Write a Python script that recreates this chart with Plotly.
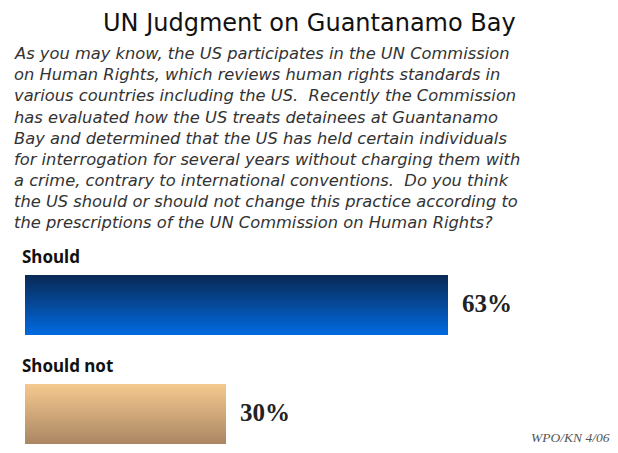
import plotly.graph_objects as go

# ---- data ----
categories = ["Should not", "Should"]
values = [30, 63]
value_labels = ["30%", "63%"]
title_text = "UN Judgment on Guantanamo Bay"
question_lines = [
    "As you may know, the US participates in the UN Commission",
    "on Human Rights, which reviews human rights standards in",
    "various countries including the US.  Recently the Commission",
    "has evaluated how the US treats detainees at Guantanamo",
    "Bay and determined that the US has held certain individuals",
    "for interrogation for several years without charging them with",
    "a crime, contrary to international conventions.  Do you think",
    "the US should or should not change this practice according to",
    "the prescriptions of the UN Commission on Human Rights?",
]
source_text = "WPO/KN 4/06"

# gradient end colours (bottom, top) for each category -- styling only
gradient_ends = {
    "Should": ("#0069de", "#0a2a58"),
    "Should not": ("#ab8764", "#f4c88e"),
}
N_STRIPS = 40

W, H = 618, 453
bar_w = 0.55
px_per_unit = 109.0
plot_top_px = 265.0
y_lo = -(H - 414.0) / px_per_unit
y_hi = 1 + (305.0 - plot_top_px) / px_per_unit
x0_px = 25.0
px_per_pct = 6.71
x_hi = (W - x0_px) / px_per_pct


def py(px):
    return 1 - px / H


def mix(c1, c2, t):
    a = [int(c1[i:i + 2], 16) for i in (1, 3, 5)]
    b = [int(c2[i:i + 2], 16) for i in (1, 3, 5)]
    return "rgb(%d,%d,%d)" % tuple(round(a[k] + (b[k] - a[k]) * t) for k in range(3))


fig = go.Figure()
for cat, val in zip(categories, values):
    c_bot, c_top = gradient_ends[cat]
    sw = bar_w / N_STRIPS
    for i in range(N_STRIPS):
        col = mix(c_bot, c_top, i / (N_STRIPS - 1))
        fig.add_trace(go.Bar(
            x=[val], y=[categories.index(cat)], orientation="h",
            width=[sw * 1.6 if i < N_STRIPS - 1 else sw], offset=[-bar_w / 2 + i * sw],
            marker=dict(color=col, line=dict(width=0)),
            showlegend=False, hoverinfo="skip",
        ))

annotations = []
# title
annotations.append(dict(text=title_text, x=0.5, y=py(23), xref="paper", yref="paper",
                        xanchor="center", yanchor="middle", showarrow=False,
                        font=dict(family="DejaVu Sans", size=24, color="#111111")))
# question
for i, line in enumerate(question_lines):
    annotations.append(dict(text="<i>" + line + "</i>", x=12 / W, y=py(54 + 21 * i),
                            xref="paper", yref="paper", xanchor="left", yanchor="middle",
                            showarrow=False,
                            font=dict(family="DejaVu Sans", size=16.3, color="#333333")))
# category labels and value labels
for idx, (cat, val, lab) in enumerate(zip(categories, values, value_labels)):
    annotations.append(dict(text="<b>" + cat + "</b>", x=0, y=idx, xref="x", yref="y",
                            xanchor="left", yanchor="middle", xshift=-5, yshift=49, showarrow=False,
                            font=dict(family="Noto Sans", size=17, color="#111111")))
    annotations.append(dict(text="<b>" + lab + "</b>", x=val, y=idx, xref="x", yref="y",
                            xanchor="left", yanchor="middle", xshift=12, yshift=2, showarrow=False,
                            font=dict(family="Liberation Serif", size=25, color="#222222")))
annotations.append(dict(text="<i>" + source_text + "</i>", x=612 / W, y=py(437), xref="paper",
                        yref="paper", xanchor="right", yanchor="middle", showarrow=False,
                        font=dict(family="Liberation Serif", size=13.5, color="#555555")))

fig.update_layout(
    width=W, height=H,
    margin=dict(l=0, r=0, t=0, b=0),
    paper_bgcolor="white", plot_bgcolor="white",
    barmode="overlay", bargap=0,
    xaxis=dict(domain=[x0_px / W, 1], range=[0, x_hi], visible=False, fixedrange=True),
    yaxis=dict(domain=[0, 1 - plot_top_px / H], range=[y_lo, y_hi], visible=False, fixedrange=True),
    annotations=annotations,
)

fig.write_html("out.html")
